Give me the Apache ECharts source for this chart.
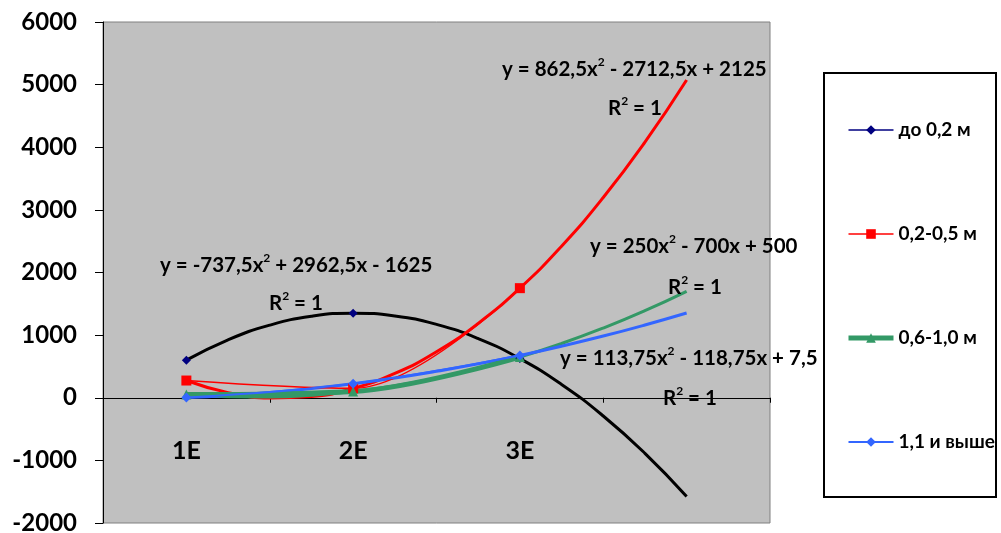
<!DOCTYPE html>
<html><head><meta charset="utf-8">
<script src="https://cdn.jsdelivr.net/npm/echarts@6/dist/echarts.min.js"></script>
<style>html,body{margin:0;padding:0;background:#fff}#c{width:1001px;height:533px}</style>
</head><body><div id="c"></div>
<script>
// ---- data ----
const categories = ['1E', '2E', '3E'];
const catX = [1, 2, 3];
const seriesNames = ['до 0,2 м', '0,2-0,5 м', '0,6-1,0 м', '1,1 и выше'];
const vUpTo02 = [600, 1350, 625];
const v02to05 = [275, 150, 1750];
const v06to10 = [50, 100, 650];
const v11up = [2.5, 225, 675];
// polynomial trendlines (forecast forward to x = 4)
const trendX = [1, 1.25, 1.5, 1.75, 2, 2.25, 2.5, 2.75, 3, 3.25, 3.5, 3.75, 4];
const tUpTo02 = [600, 926, 1159, 1301, 1350, 1307, 1172, 945, 625, 213, -291, -887, -1575];
const t02to05 = [275, 82, -3, 20, 150, 388, 734, 1188, 1750, 2420, 3197, 4082, 5075];
const t06to10 = [50, 16, 13, 41, 100, 191, 313, 466, 650, 866, 1113, 1391, 1700];
const t11up = [2.5, 37, 85, 148, 225, 316, 422, 541, 675, 823, 985, 1162, 1353];
const yMin = -2000, yMax = 6000, yStep = 1000;
const eqMain = ['y = -737,5x', 'y = 862,5x', 'y = 250x', 'y = 113,75x'];
const eqRest = [' + 2962,5x - 1625', ' - 2712,5x + 2125', ' - 700x + 500', ' - 118,75x + 7,5'];

const FONT = 'Lato, "Open Sans", sans-serif';
const pair = (xs, ys) => ys.map((v, i) => [xs[i], v]);

const colors = ['#000080', '#FF0000', '#339966', '#3366FF'];
const symbols = ['diamond', 'rect', 'triangle', 'diamond'];
const symSizes = [9, 10, 10, 10];
const lineW = [1.5, 1.5, 5, 2];
const lineOp = [0, 1, 1, 1];
const dataSets = [vUpTo02, v02to05, v06to10, v11up];
const trends = [tUpTo02, t02to05, t06to10, t11up];
const trendColors = ['#000000', '#FF0000', '#339966', '#3366FF'];

const series = [];
trends.forEach((t, i) => {
  series.push({
    type: 'line', name: 'trend' + i, data: pair(trendX, t), smooth: true,
    showSymbol: false, symbol: 'none', silent: true, z: 2,
    lineStyle: { color: trendColors[i], width: 3 }
  });
});
dataSets.forEach((d, i) => {
  series.push({
    type: 'line', name: seriesNames[i], data: pair(catX, d), smooth: 0.35,
    symbol: symbols[i], symbolSize: symSizes[i], showAllSymbol: true, z: 3,
    itemStyle: { color: colors[i] },
    lineStyle: { color: colors[i], width: lineW[i], opacity: lineOp[i] }
  });
});

const richSt = {
  m: { fontFamily: FONT, fontWeight: 'bold', fontSize: 20.5, color: '#000', lineHeight: 24, verticalAlign: 'bottom' },
  s: { fontFamily: FONT, fontWeight: 'bold', fontSize: 12, color: '#000', lineHeight: 24, verticalAlign: 'top' }
};
function eqText(i, left, top) {
  return { type: 'text', left: left, top: top, z: 100,
    style: { text: '{m|' + eqMain[i] + '}{s|2}{m|' + eqRest[i] + '}', rich: richSt } };
}
function rText(left, top) {
  return { type: 'text', left: left, top: top, z: 100,
    style: { text: '{m|R}{s|2}{m| = 1}', rich: richSt } };
}

const chart = echarts.init(document.getElementById('c'), null, { renderer: 'canvas' });
chart.setOption({
  animation: false,
  backgroundColor: '#ffffff',
  grid: {
    left: 103, top: 22, width: 667, height: 501, show: true, outerBoundsMode: 'none', containLabel: false,
    backgroundColor: '#C0C0C0', borderColor: '#808080', borderWidth: 1
  },
  xAxis: {
    type: 'value', min: 0.5, max: 4.5, interval: 0.5,
    axisLine: { onZero: true, lineStyle: { color: '#000', width: 1 } },
    axisTick: { show: true, length: 5, inside: false, customValues: [1.5, 2.5, 3.5, 4.5], lineStyle: { color: '#000' } },
    axisLabel: {
      customValues: catX, margin: -72, verticalAlign: 'middle',
      formatter: v => categories[catX.indexOf(v)] || '',
      fontFamily: FONT, fontWeight: 'bold', fontSize: 25, color: '#000'
    },
    splitLine: { show: false }
  },
  yAxis: {
    type: 'value', min: yMin, max: yMax, interval: yStep,
    axisLine: { show: true, onZero: false, lineStyle: { color: '#000', width: 1 } },
    axisTick: { show: true, length: 8, lineStyle: { color: '#000' } },
    axisLabel: { margin: 26, formatter: v => String(v), fontFamily: FONT, fontWeight: 'bold', fontSize: 24, color: '#000' },
    splitLine: { show: false }
  },
  legend: {
    data: seriesNames.map((n, i) => ({ name: n, lineStyle: { opacity: 1, width: lineW[i], color: colors[i] } })),
    orient: 'vertical', left: 846, top: 120, padding: 0,
    itemWidth: 45, itemHeight: 12, itemGap: 84,
    textStyle: { fontFamily: FONT, fontWeight: 'bold', fontSize: 19, color: '#000', lineHeight: 20 }
  },
  graphic: [
    { type: 'rect', left: 823, top: 72, z: 1,
      shape: { width: 172, height: 424 },
      style: { fill: '#fff', stroke: '#000', lineWidth: 2 } },
    eqText(1, 502, 56), rText(608, 95),
    eqText(0, 160, 252), rText(269, 290),
    eqText(2, 590, 233), rText(668, 274),
    eqText(3, 560, 345), rText(663, 385)
  ],
  series: series
});
</script></body></html>
